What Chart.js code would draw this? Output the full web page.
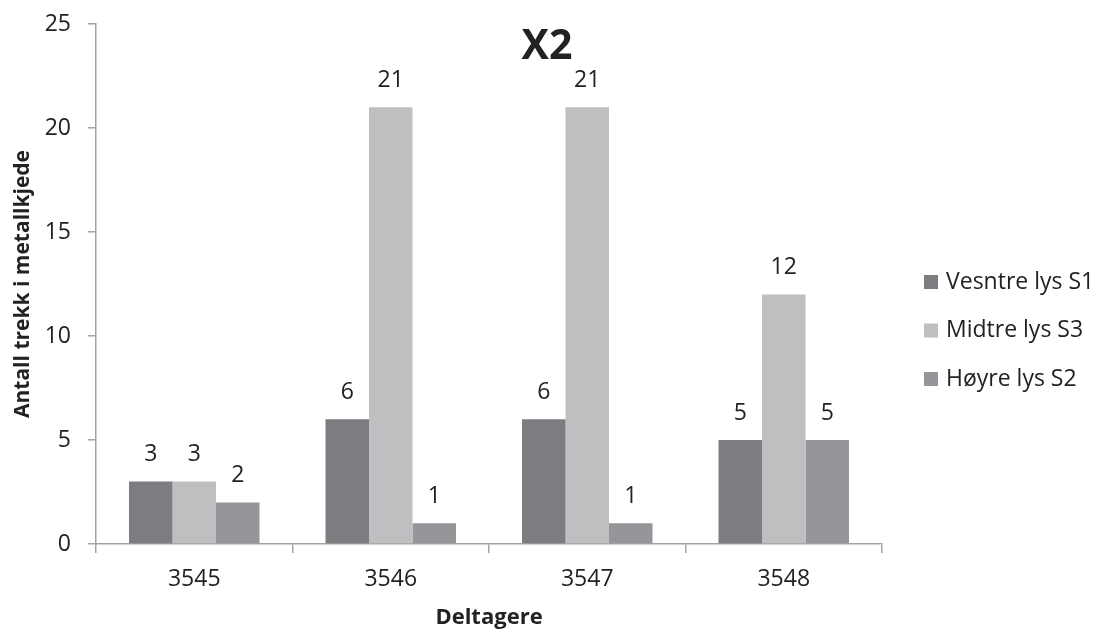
<!DOCTYPE html>
<html>
<head>
<meta charset="utf-8">
<script src="https://cdn.jsdelivr.net/npm/chart.js@4/dist/chart.umd.min.js"></script>
<style>
  html, body { margin: 0; padding: 0; background: #ffffff; }
  #wrap { width: 1099px; height: 633px; position: relative; }
</style>
</head>
<body>
<div id="wrap"><canvas id="chart"></canvas></div>
<script>
// Participants on the x axis
const categories = ['3545', '3546', '3547', '3548'];

// Pulls on the metal chain per light position
const seriesNames = ['Vesntre lys S1', 'Midtre lys S3', 'Høyre lys S2'];
const vesntre = [3, 6, 6, 5];
const midtre  = [3, 21, 21, 12];
const hoyre   = [2, 1, 1, 5];

const seriesColors = ['#7c7d81', '#bebfc1', '#959699'];

const chartTitle = 'X2';
const xTitle = 'Deltagere';
const yTitle = 'Antall trekk i metallkjede';

const yMin = 0, yMax = 25, yStep = 5;

const FONT = "'Open Sans', 'DejaVu Sans', sans-serif";
const TEXT = '#222222';
const AXIS = '#a3a3a3';

// Value labels above each bar
const valueLabels = {
  id: 'valueLabels',
  afterDatasetsDraw(chart) {
    const ctx = chart.ctx;
    ctx.save();
    ctx.font = '23px ' + FONT;
    ctx.fillStyle = TEXT;
    ctx.textAlign = 'center';
    ctx.textBaseline = 'middle';
    chart.data.datasets.forEach((ds, i) => {
      const meta = chart.getDatasetMeta(i);
      meta.data.forEach((bar, j) => {
        ctx.fillText(String(ds.data[j]), bar.x, bar.y - 27);
      });
    });
    ctx.restore();
  }
};

// Chart heading drawn over the top of the plot
const heading = {
  id: 'heading',
  afterDraw(chart) {
    const ctx = chart.ctx;
    ctx.save();
    ctx.font = 'bold 41px ' + FONT;
    ctx.fillStyle = TEXT;
    ctx.textAlign = 'center';
    ctx.textBaseline = 'middle';
    ctx.fillText(chartTitle, 547, 47);
    ctx.restore();
  }
};

// Legend on the right side
const sideLegend = {
  id: 'sideLegend',
  afterDraw(chart) {
    const ctx = chart.ctx;
    ctx.save();
    ctx.font = '23px ' + FONT;
    ctx.textBaseline = 'middle';
    ctx.textAlign = 'left';
    chart.data.datasets.forEach((ds, i) => {
      const cy = 282 + i * 48.5;
      ctx.fillStyle = ds.backgroundColor;
      ctx.fillRect(924, cy - 7, 14, 14);
      ctx.fillStyle = TEXT;
      ctx.fillText(ds.label, 946, cy);
    });
    ctx.restore();
  }
};

const datasets = [vesntre, midtre, hoyre].map((vals, i) => ({
  label: seriesNames[i],
  data: vals,
  backgroundColor: seriesColors[i],
  borderWidth: 0,
  categoryPercentage: 0.664,
  barPercentage: 1.0
}));

new Chart(document.getElementById('chart'), {
  type: 'bar',
  data: { labels: categories, datasets },
  plugins: [valueLabels, heading, sideLegend],
  options: {
    responsive: true,
    maintainAspectRatio: false,
    animation: false,
    layout: { padding: { top: 24, right: 217, bottom: 0, left: 0 } },
    plugins: {
      legend: { display: false },
      title: { display: false },
      tooltip: { enabled: false }
    },
    scales: {
      x: {
        afterFit(scale) { scale.height = 89; },
        grid: {
          drawOnChartArea: false,
          drawTicks: true,
          tickLength: 9,
          color: AXIS,
          lineWidth: 1.5,
          offset: true
        },
        border: { display: true, color: AXIS, width: 1.5 },
        ticks: {
          color: TEXT,
          font: { family: FONT, size: 23 },
          padding: 13,
          maxRotation: 0
        },
        title: {
          display: true,
          text: xTitle,
          color: TEXT,
          font: { family: FONT, size: 22, weight: 'bold' },
          padding: { top: 0, bottom: 2 }
        }
      },
      y: {
        min: yMin,
        max: yMax,
        afterFit(scale) {
          scale.width = 96;
          scale.paddingTop = 0;
          scale.paddingBottom = 0;
        },
        grid: {
          drawOnChartArea: false,
          drawTicks: true,
          tickLength: 8,
          color: AXIS,
          lineWidth: 1.5
        },
        border: { display: true, color: AXIS, width: 1.5 },
        ticks: {
          stepSize: yStep,
          color: TEXT,
          font: { family: FONT, size: 23 },
          padding: 17
        },
        title: {
          display: true,
          text: yTitle,
          color: TEXT,
          font: { family: FONT, size: 21, weight: 'bold' },
          padding: { top: 10, bottom: 0 }
        }
      }
    }
  }
});
</script>
</body>
</html>
